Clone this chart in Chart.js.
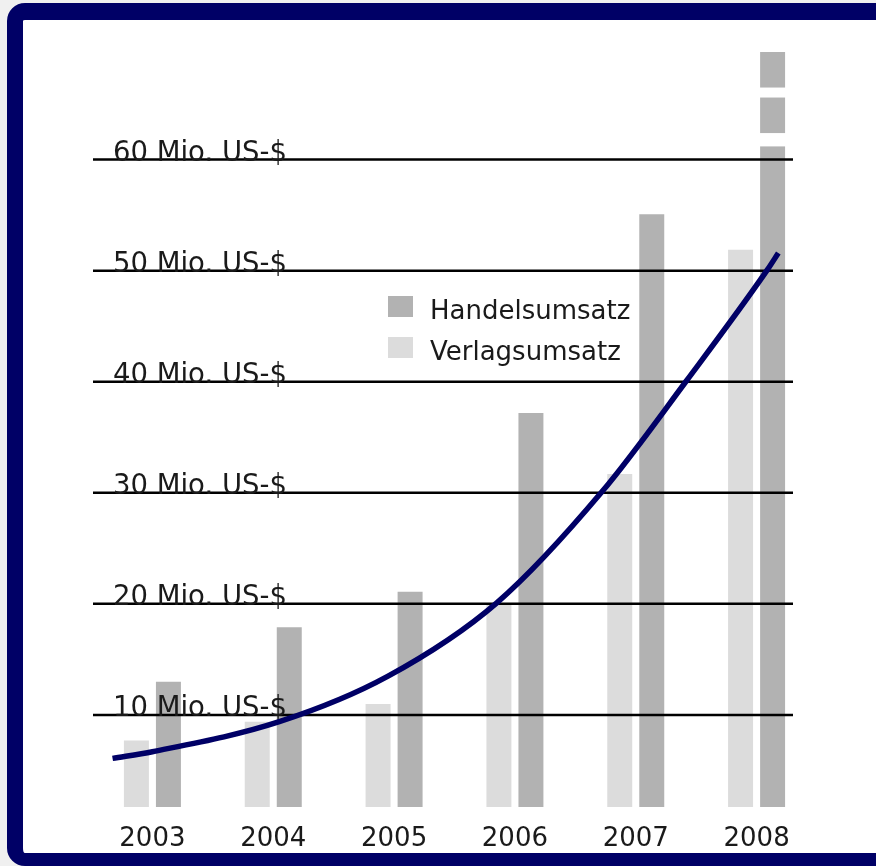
<!DOCTYPE html>
<html>
<head>
<meta charset="utf-8">
<script src="https://cdn.jsdelivr.net/npm/chart.js@4.4.1/dist/chart.umd.min.js"></script>
<style>
body{margin:0;background:#f0f0f0;width:876px;height:866px;overflow:hidden;position:relative;}
#frame{position:absolute;left:7px;top:3px;width:920px;height:863px;box-sizing:border-box;
  border:16px solid #000066;border-top-width:17px;border-bottom-width:13px;border-radius:18px;background:#fff;}
#chart{position:absolute;left:0;top:0;}
</style>
</head>
<body>
<div id="frame"></div>
<canvas id="chart" width="876" height="866"></canvas>
<script>
const years=['2003','2004','2005','2006','2007','2008'];
const verlag=[7.6,9.3,10.9,19.8,31.6,51.8];
const handel=[12.9,17.8,21.0,37.1,55.0,69.6];
// trend curve, x in category units (0 = 2003)
const trendX=[-0.33,0,1.05,1.95,2.85,3.72,4.42,5.09,5.18];
const trendY=[6.0,6.6,9.3,13.4,20.0,30.0,40.0,50.0,51.5];
const gridValues=[10,20,30,40,50,60];
// axis breaks on the 2008 Handelsumsatz bar
const breakRanges=[[65.5,66.4],[61.1,62.3]];

const FONT='"DejaVu Sans", Verdana, sans-serif';
const dark='#b2b2b2', light='#dcdcdc', navy='#000066';

const overlay={
    id:'overlay',
    afterDatasetDraw(chart,args){
        if(args.index!==1) return;
        const ctx=chart.ctx, y=chart.scales.y, area=chart.chartArea;
        const bar=chart.getDatasetMeta(2).data[5];
        ctx.save();
        ctx.fillStyle='#fff';
        breakRanges.forEach(([a,b])=>{
            const top=y.getPixelForValue(b), bot=y.getPixelForValue(a);
            ctx.fillRect(bar.x-bar.width/2-1,top,bar.width+2,bot-top);
        });
        gridValues.forEach(v=>{
            const py=y.getPixelForValue(v)+1;
            ctx.strokeStyle='#000';
            ctx.lineWidth=2.5;
            ctx.beginPath();
            ctx.moveTo(area.left+1,py);
            ctx.lineTo(area.right-24,py);
            ctx.stroke();
            ctx.fillStyle='#1a1a1a';
            ctx.font='27.5px '+FONT;
            ctx.textBaseline='alphabetic';
            ctx.fillText(v+' Mio. US-$',area.left+21,py+1);
        });
        ctx.restore();
    },
    afterDraw(chart){
        const ctx=chart.ctx;
        const items=[{label:'Handelsumsatz',color:dark},{label:'Verlagsumsatz',color:light}];
        ctx.save();
        ctx.font='26px '+FONT;
        ctx.textBaseline='alphabetic';
        items.forEach((it,i)=>{
            const top=296+i*41;
            ctx.fillStyle=it.color;
            ctx.fillRect(388,top,25,21);
            ctx.fillStyle='#1a1a1a';
            ctx.fillText(it.label,430,top+23);
        });
        ctx.restore();
    }
};

new Chart(document.getElementById('chart'),{
    type:'bar',
    data:{
        labels:years,
        datasets:[
            {type:'line',label:'Trend',data:trendX.map((x,i)=>({x:x,y:trendY[i]})),xAxisID:'xl',
             borderColor:navy,borderWidth:5.5,pointRadius:0,fill:false,cubicInterpolationMode:'monotone'},
            {label:'Verlagsumsatz',data:verlag,backgroundColor:light,barPercentage:0.78,categoryPercentage:1.06},
            {label:'Handelsumsatz',data:handel,backgroundColor:dark,barPercentage:0.78,categoryPercentage:1.06}
        ]
    },
    options:{
        responsive:false,
        animation:false,
        layout:{padding:{left:92,right:59,top:52,bottom:14}},
        plugins:{legend:{display:false},tooltip:{enabled:false},title:{display:false}},
        scales:{
            x:{grid:{display:false},border:{display:false},
               ticks:{color:'#1a1a1a',font:{family:FONT,size:26},padding:9},
               afterFit(scale){scale.height=45;}},
            xl:{type:'linear',display:false,offset:false,grid:{offset:false},min:-0.5,max:5.5},
            y:{display:false,min:1.62,max:69.6}
        }
    },
    plugins:[overlay]
});
</script>
</body>
</html>
